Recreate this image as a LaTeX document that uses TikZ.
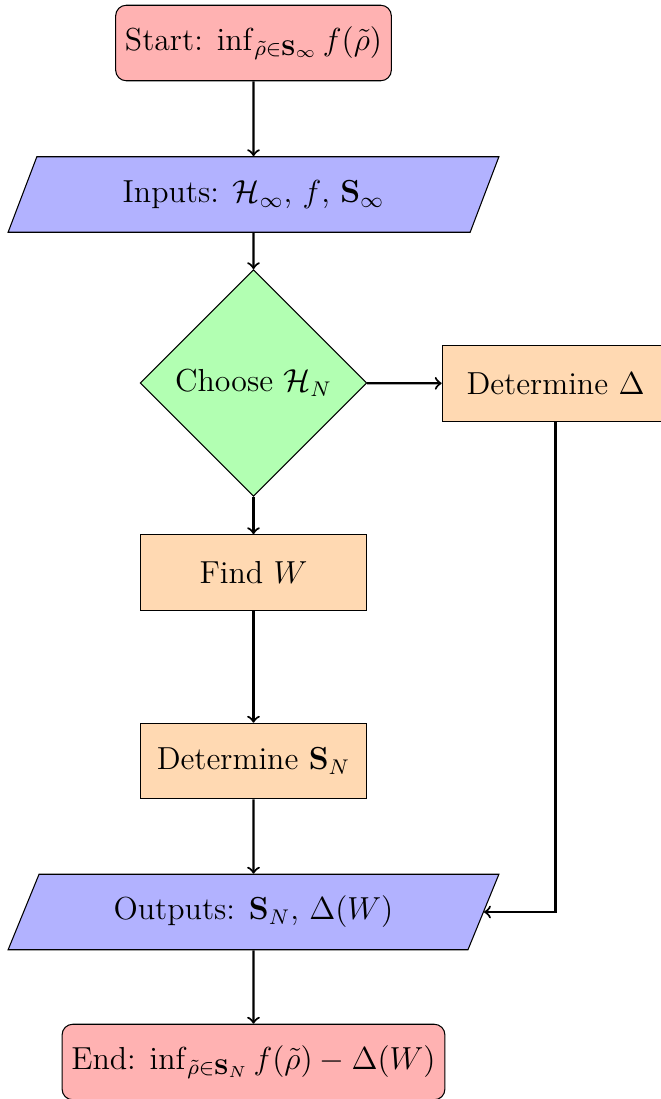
\documentclass[tikz,border=0pt]{standalone}
\usepackage{amsmath,amssymb}
\usetikzlibrary{shapes.geometric}
\begin{document}
\begin{tikzpicture}[x=0.013245cm,y=-0.013245cm,
  every node/.style={font=\fontsize{12}{14.4}\selectfont},
  startstop/.style={rectangle, rounded corners, minimum width=3cm, minimum height=1cm, inner sep=3.5pt, draw=black, fill=red!30, text centered},
  iobox/.style={trapezium, trapezium left angle=58, trapezium right angle=122, trapezium stretches body=true, minimum width=6.5cm, minimum height=1cm, draw=black, fill=blue!30, text centered},
  procbox/.style={rectangle, minimum width=3cm, minimum height=1cm, draw=black, fill=orange!30, text centered},
  decbox/.style={diamond, aspect=1, minimum width=3cm, minimum height=3cm, inner sep=0pt, draw=black, fill=green!30, text centered},
  arrowline/.style={thick,->}]
\useasboundingbox (0,0) rectangle (661,1099);
\node[startstop] (start) at (253.5,43) {Start: $\inf_{\tilde{\rho}\in\mathbf{S}_\infty} f(\tilde{\rho})$};
\node[iobox] (in) at (253.5,194.5) {Inputs: $\mathcal{H}_\infty$, $f$, $\mathbf{S}_\infty$};
\node[decbox] (choose) at (253.5,383) {Choose $\mathcal{H}_N$};
\node[procbox] (detD) at (555.5,383.5) {Determine $\Delta$};
\node[procbox] (find) at (253.5,572.5) {Find $W$};
\node[procbox] (detS) at (253.5,761) {Determine $\mathbf{S}_N$};
\node[iobox] (out) at (253.5,912) {Outputs: $\mathbf{S}_N$, $\Delta(W)$};
\node[startstop] (stop) at (253.5,1062) {End: $\inf_{\tilde{\rho}\in\mathbf{S}_N} f(\tilde{\rho})-\Delta(W)$};
\draw[arrowline] (start) -- (in);
\draw[arrowline] (in) -- (choose);
\draw[arrowline] (choose) -- (detD);
\draw[arrowline] (choose) -- (find);
\draw[arrowline] (find) -- (detS);
\draw[arrowline] (detS) -- (out);
\draw[arrowline] (detD.south) |- (out.east);
\draw[arrowline] (out) -- (stop);
\end{tikzpicture}
\end{document}
